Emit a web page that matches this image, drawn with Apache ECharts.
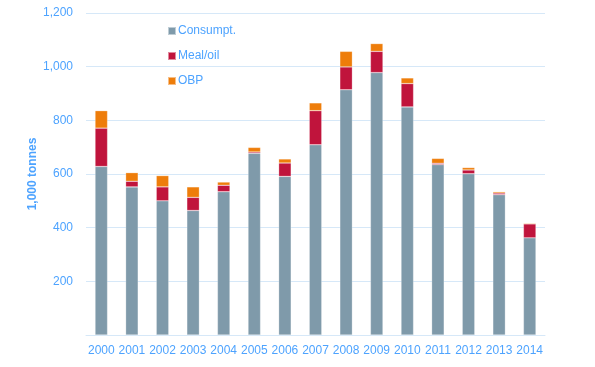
<!DOCTYPE html>
<html><head><meta charset="utf-8">
<script src="https://cdn.jsdelivr.net/npm/echarts@6/dist/echarts.min.js"></script>
<style>html,body{margin:0;padding:0;background:#fff}#c{width:595px;height:367px}</style>
</head><body><div id="c"></div>
<script>
const years = ['2000','2001','2002','2003','2004','2005','2006','2007','2008','2009','2010','2011','2012','2013','2014'];
const consumpt = [628,552,500,464,534,677,591,709,914,978,850,635,601,523,362];
const mealOil = [143,21,52,49,24,5,50,127,85,79,87,5,14,6,52];
const obp = [65,32,42,39,12,17,15,29,58,29,21,18,9,5,3];
const yTicks = [0,200,400,600,800,1000,1200];

const txt = '#4da3ff';
const font = 'Liberation Sans, Arial, sans-serif';
const chart = echarts.init(document.getElementById('c'));
const barStyle = {borderColor:'rgba(255,255,255,0.5)', borderWidth:0.5};
chart.setOption({
  animation:false,
  textStyle:{fontFamily:font},
  grid:{left:86, right:50, top:13, bottom:32},
  legend:{orient:'vertical', left:162, top:20, itemWidth:8, itemHeight:8, itemGap:13,
    icon:'rect', textStyle:{color:txt, fontSize:12, fontFamily:font, padding:[0,0,0,-3]},
    data:['Consumpt.','Meal/oil','OBP']},
  xAxis:{type:'category', data:years, axisTick:{show:false},
    axisLine:{lineStyle:{color:'#d6e8f8'}},
    axisLabel:{color:txt, fontSize:12, margin:10, interval:0, fontFamily:font}},
  yAxis:{type:'value', min:yTicks[0], max:yTicks[yTicks.length-1], interval:200,
    name:'1,000 tonnes', nameLocation:'middle', nameGap:47, nameMoveOverlap:false,
    nameTextStyle:{color:txt, fontSize:12, fontWeight:'bold', fontFamily:font},
    axisLabel:{color:txt, fontSize:12, margin:13, fontFamily:font,
      formatter:v=> v===0 ? '' : v.toLocaleString('en-US')},
    splitLine:{lineStyle:{color:'#d6e8f8'}}},
  series:[
    {name:'Consumpt.', type:'bar', stack:'a', data:consumpt, barWidth:12.5, itemStyle:Object.assign({color:'#7f9aaa'},barStyle)},
    {name:'Meal/oil', type:'bar', stack:'a', data:mealOil, itemStyle:Object.assign({color:'#c0143c'},barStyle)},
    {name:'OBP', type:'bar', stack:'a', data:obp, itemStyle:Object.assign({color:'#ee7d0a'},barStyle)}
  ]
});
</script></body></html>
